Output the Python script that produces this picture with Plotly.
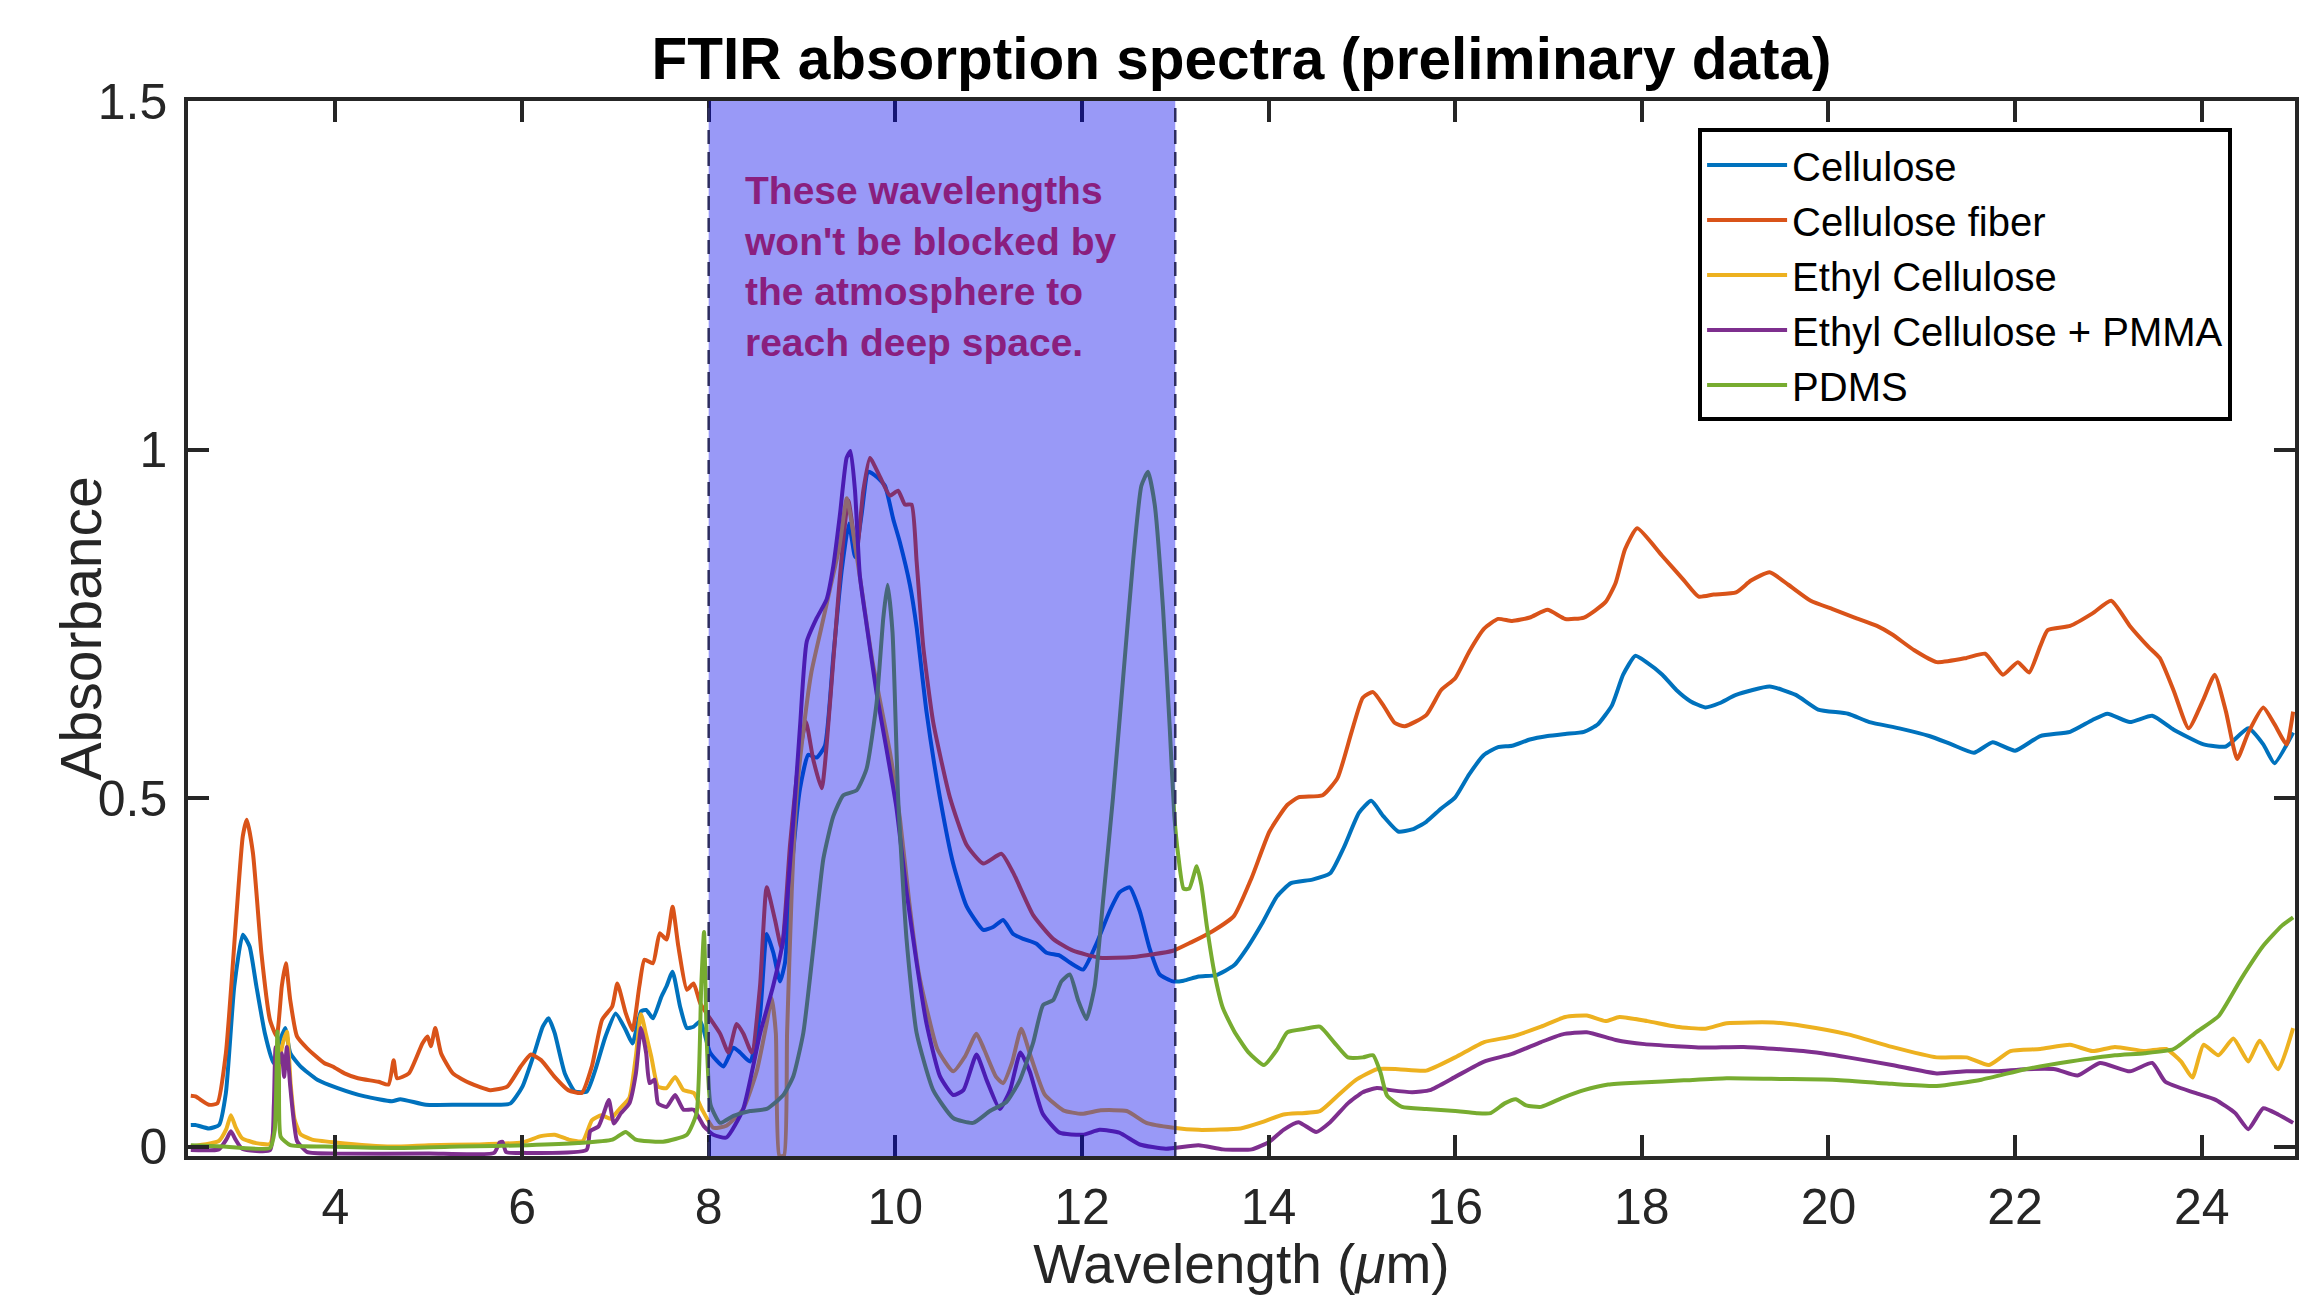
import plotly.graph_objects as go

# ---------------- data ----------------
fiber_x = [2.45, 2.50, 2.644, 2.735, 2.826, 2.935, 3.007, 3.05, 3.116, 3.207, 3.298, 3.37, 3.425, 3.468, 3.516,
           3.588, 3.697, 3.879, 3.97, 4.097, 4.242, 4.46, 4.569, 4.624, 4.66, 4.787, 4.932, 4.987, 5.023, 5.07,
           5.132, 5.259, 5.441, 5.659, 5.84, 5.986, 6.095, 6.204, 6.349, 6.494, 6.64, 6.748, 6.858, 6.966, 7.021,
           7.112, 7.184, 7.257, 7.312, 7.403, 7.475, 7.548, 7.613, 7.675, 7.766, 7.838, 7.911, 8.122, 8.211, 8.30,
           8.372, 8.461, 8.55, 8.622, 8.711, 8.782, 8.872, 8.979, 9.043, 9.121, 9.211, 9.30, 9.407, 9.496, 9.585,
           9.657, 9.728, 9.835, 9.942, 10.03, 10.103, 10.174, 10.228, 10.299, 10.406, 10.585, 10.763, 10.942,
           11.138, 11.263, 11.477, 11.691, 11.905, 12.19, 12.547, 12.976, 13.17, 13.40, 13.63, 13.82, 14.01, 14.20,
           14.32, 14.58, 14.74, 14.89, 15.01, 15.12, 15.23, 15.35, 15.46, 15.69, 15.85, 16.0, 16.15, 16.31, 16.46,
           16.61, 16.80, 16.99, 17.18, 17.38, 17.61, 17.72, 17.82, 17.95, 18.215, 18.454, 18.61, 18.77, 19.01,
           19.17, 19.37, 19.57, 19.81, 20.045, 20.28, 20.52, 20.68, 20.92, 21.16, 21.48, 21.68, 21.87, 22.03, 22.15,
           22.27, 22.35, 22.59, 22.83, 23.03, 23.23, 23.43, 23.55, 23.70, 23.86, 24.02, 24.14, 24.26, 24.38, 24.50,
           24.66, 24.78, 24.91, 24.98]
fiber_y = [0.073, 0.072, 0.060, 0.062, 0.134, 0.325, 0.445, 0.469, 0.421, 0.277, 0.182, 0.158, 0.230, 0.263, 0.210,
           0.158, 0.141, 0.120, 0.115, 0.105, 0.098, 0.093, 0.089, 0.124, 0.098, 0.105, 0.148, 0.158, 0.144, 0.170,
           0.134, 0.105, 0.091, 0.081, 0.086, 0.115, 0.132, 0.124, 0.100, 0.081, 0.077, 0.115, 0.182, 0.201, 0.234,
           0.191, 0.167, 0.230, 0.268, 0.263, 0.306, 0.297, 0.344, 0.287, 0.225, 0.234, 0.205, 0.162, 0.135, 0.176,
           0.162, 0.135, 0.230, 0.372, 0.325, 0.284, 0.433, 0.569, 0.609, 0.555, 0.514, 0.636, 0.819, 0.927, 0.853,
           0.941, 0.988, 0.961, 0.934, 0.941, 0.921, 0.921, 0.840, 0.718, 0.609, 0.501, 0.433, 0.406,
           0.420, 0.393, 0.332, 0.298, 0.281, 0.271, 0.272, 0.281, 0.293, 0.309, 0.331, 0.386, 0.452, 0.490,
           0.501, 0.504, 0.529, 0.595, 0.644, 0.652, 0.633, 0.608, 0.603, 0.619, 0.655, 0.672, 0.710, 0.743, 0.757,
           0.754, 0.759, 0.770, 0.757, 0.759, 0.781, 0.809, 0.857, 0.887, 0.848, 0.812, 0.789, 0.792, 0.795,
           0.812, 0.824, 0.806, 0.783, 0.771, 0.759, 0.747, 0.735, 0.712, 0.695, 0.701, 0.707, 0.677, 0.695, 0.680,
           0.718, 0.741, 0.747, 0.765, 0.783, 0.747, 0.717, 0.701, 0.654, 0.600, 0.642, 0.677, 0.624, 0.556, 0.594,
           0.630, 0.606, 0.577, 0.624]

cell_x = [2.45, 2.50, 2.644, 2.753, 2.826, 2.916, 3.007, 3.08, 3.153, 3.243, 3.334, 3.407, 3.461, 3.516, 3.625,
          3.806, 4.024, 4.315, 4.605, 4.696, 4.969, 5.332, 5.695, 5.877, 6.004, 6.131, 6.222, 6.284, 6.349, 6.458,
          6.567, 6.694, 6.785, 6.894, 7.003, 7.112, 7.184, 7.275, 7.33, 7.403, 7.493, 7.548, 7.613, 7.693, 7.766,
          7.838, 7.911, 8.015, 8.158, 8.265, 8.336, 8.443, 8.55, 8.622, 8.693, 8.765, 8.818, 8.89, 8.979, 9.068,
          9.157, 9.246, 9.336, 9.425, 9.503, 9.568, 9.639, 9.71, 9.799, 9.889, 9.978, 10.049, 10.156, 10.228,
          10.335, 10.478, 10.62, 10.763, 10.942, 11.049, 11.156, 11.263, 11.37, 11.513, 11.62, 11.762, 11.87,
          12.012, 12.155, 12.298, 12.405, 12.512, 12.619, 12.726, 12.833, 12.976, 13.09, 13.25, 13.44, 13.63,
          13.78, 13.93, 14.09, 14.24, 14.47, 14.66, 14.81, 14.97, 15.10, 15.23, 15.39, 15.54, 15.69, 15.85, 16.0,
          16.15, 16.31, 16.46, 16.61, 16.80, 16.99, 17.18, 17.38, 17.53, 17.68, 17.80, 17.93, 18.06, 18.22, 18.37,
          18.52, 18.68, 18.83, 19.01, 19.37, 19.65, 19.89, 20.21, 20.44, 20.76, 21.08, 21.32, 21.56, 21.76, 22.0,
          22.27, 22.59, 22.83, 22.99, 23.23, 23.47, 23.70, 24.02, 24.26, 24.50, 24.66, 24.78, 24.98]
cell_y = [0.031, 0.031, 0.026, 0.031, 0.077, 0.230, 0.304, 0.287, 0.230, 0.163, 0.120, 0.153, 0.170, 0.134, 0.115,
          0.096, 0.084, 0.072, 0.065, 0.068, 0.060, 0.060, 0.060, 0.062, 0.086, 0.134, 0.172, 0.184, 0.163, 0.105,
          0.079, 0.079, 0.110, 0.158, 0.191, 0.167, 0.148, 0.194, 0.196, 0.184, 0.215, 0.230, 0.251, 0.201, 0.170,
          0.172, 0.180, 0.135, 0.115, 0.142, 0.135, 0.122, 0.189, 0.305, 0.278, 0.237, 0.264, 0.399, 0.514, 0.562,
          0.558, 0.575, 0.704, 0.826, 0.894, 0.846, 0.907, 0.968, 0.961, 0.948, 0.900, 0.867, 0.806, 0.745,
          0.623, 0.501, 0.406, 0.345, 0.311, 0.315, 0.325, 0.305, 0.298, 0.291, 0.278, 0.274, 0.264,
          0.254, 0.291, 0.338, 0.365, 0.372, 0.338, 0.284, 0.247, 0.237, 0.238, 0.244, 0.246, 0.260,
          0.287, 0.320, 0.359, 0.378, 0.383, 0.392, 0.430, 0.479, 0.496, 0.474, 0.452, 0.455, 0.466, 0.485, 0.501,
          0.534, 0.562, 0.573, 0.575, 0.584, 0.589, 0.592, 0.595, 0.606, 0.633, 0.677, 0.704, 0.694, 0.677, 0.655,
          0.639, 0.630, 0.636, 0.648, 0.660, 0.648, 0.627, 0.621, 0.609, 0.600, 0.589, 0.577, 0.565, 0.580, 0.568,
          0.589, 0.595, 0.612, 0.621, 0.609, 0.618, 0.598, 0.577, 0.574, 0.600, 0.577, 0.550, 0.594]

ethyl_x = [2.45, 2.75, 2.83, 2.88, 2.93, 3.0, 3.15, 3.30, 3.36, 3.40, 3.44, 3.48, 3.52, 3.56, 3.625, 3.75, 4.0,
           4.6, 5.0, 5.5, 6.0, 6.2, 6.35, 6.5, 6.65, 6.75, 6.85, 6.95, 7.05, 7.15, 7.22, 7.275, 7.33, 7.385, 7.457,
           7.548, 7.64, 7.73, 7.84, 7.93, 8.05, 8.19, 8.37, 8.515, 8.62, 8.675, 8.72, 8.757, 8.807, 8.84, 8.89,
           8.94, 9.0, 9.1, 9.2, 9.3, 9.4, 9.48, 9.55, 9.65, 9.75, 9.85, 9.95, 10.05, 10.15, 10.25, 10.35, 10.45,
           10.62, 10.75, 10.87, 10.95, 11.08, 11.155, 11.25, 11.35, 11.45, 11.6, 11.8, 12.0, 12.2, 12.48, 12.69,
           12.98, 13.25, 13.70, 13.93, 14.16, 14.55, 14.74, 14.93, 15.16, 15.39, 15.69, 16.0, 16.31, 16.61, 16.92,
           17.18, 17.41, 17.61, 17.76, 18.06, 18.37, 18.68, 18.91, 19.41, 19.73, 20.21, 20.68, 21.16, 21.48, 21.72,
           21.95, 22.27, 22.59, 22.83, 23.07, 23.39, 23.62, 23.78, 23.90, 24.02, 24.18, 24.34, 24.50, 24.62, 24.82,
           24.98]
ethyl_y = [0.0, 0.008, 0.025, 0.045, 0.028, 0.012, 0.005, 0.004, 0.05, 0.12, 0.15, 0.165, 0.09, 0.04, 0.018, 0.01,
           0.006, 0.0, 0.002, 0.003, 0.006, 0.015, 0.017, 0.01, 0.008, 0.038, 0.045, 0.04, 0.055, 0.07, 0.13, 0.19,
           0.16, 0.129, 0.086, 0.084, 0.100, 0.081, 0.077, 0.053, 0.027, 0.030, 0.054, 0.108, 0.176, 0.213, 0.162,
           -0.013, -0.013, 0.162, 0.366, 0.50, 0.58, 0.68, 0.74, 0.80, 0.86, 0.93, 0.88, 0.79, 0.70, 0.63, 0.56,
           0.47, 0.35, 0.25, 0.19, 0.14, 0.108, 0.13, 0.162, 0.14, 0.10, 0.091, 0.12, 0.169, 0.13, 0.075, 0.052,
           0.047, 0.052, 0.051, 0.034, 0.027, 0.024, 0.026, 0.035, 0.046, 0.051, 0.073, 0.095, 0.111, 0.111, 0.109,
           0.128, 0.150, 0.158, 0.172, 0.186, 0.188, 0.180, 0.186, 0.180, 0.172, 0.169, 0.177, 0.178, 0.173, 0.161,
           0.143, 0.128, 0.128, 0.117, 0.137, 0.140, 0.146, 0.137, 0.143, 0.137, 0.140, 0.122, 0.099, 0.146, 0.131,
           0.155, 0.122, 0.152, 0.111, 0.170]

pmma_x = [2.45, 2.75, 2.83, 2.88, 2.93, 3.0, 3.30, 3.34, 3.36, 3.40, 3.425, 3.45, 3.48, 3.516, 3.56, 3.588, 3.7,
          4.0, 5.0, 5.7, 5.76, 5.79, 5.83, 6.0, 6.69, 6.73, 6.82, 6.876, 6.93, 6.985, 7.06, 7.15, 7.22, 7.275, 7.33,
          7.366, 7.42, 7.457, 7.55, 7.64, 7.73, 7.84, 7.95, 8.05, 8.19, 8.37, 8.55, 8.69, 8.80, 8.907, 8.979, 9.05,
          9.157, 9.264, 9.336, 9.407, 9.478, 9.52, 9.568, 9.62, 9.69, 9.80, 9.907, 10.01, 10.12, 10.228, 10.335,
          10.478, 10.62, 10.73, 10.87, 10.98, 11.12, 11.23, 11.34, 11.44, 11.58, 11.76, 12.01, 12.19, 12.40, 12.62,
          12.90, 13.25, 13.51, 13.82, 14.01, 14.16, 14.32, 14.51, 14.66, 14.85, 15.01, 15.16, 15.31, 15.54, 15.73,
          16.0, 16.31, 16.61, 16.92, 17.15, 17.41, 17.72, 18.03, 18.37, 18.68, 19.09, 19.73, 20.21, 20.68, 21.16,
          21.48, 21.80, 22.11, 22.43, 22.67, 22.91, 23.23, 23.47, 23.61, 23.93, 24.15, 24.36, 24.50, 24.66, 24.82,
          24.98]
pmma_y = [-0.005, -0.004, 0.01, 0.022, 0.01, -0.003, -0.005, 0.06, 0.143, 0.12, 0.134, 0.10, 0.143, 0.086, 0.03,
          0.008, -0.008, -0.010, -0.010, -0.009, 0.006, 0.007, -0.008, -0.009, -0.005, 0.022, 0.029, 0.048, 0.067,
          0.033, 0.048, 0.062, 0.105, 0.170, 0.134, 0.091, 0.096, 0.062, 0.057, 0.074, 0.053, 0.053, 0.029, 0.017,
          0.013, 0.054, 0.162, 0.230, 0.298, 0.467, 0.603, 0.724, 0.758, 0.785, 0.833, 0.907, 0.988, 0.998, 0.941,
          0.819, 0.751, 0.650, 0.569, 0.488, 0.366, 0.264, 0.176, 0.101, 0.074, 0.081, 0.132, 0.095, 0.054, 0.081,
          0.135, 0.108, 0.047, 0.020, 0.017, 0.024, 0.020, 0.003, -0.003, 0.002, -0.004, -0.004, 0.007, 0.024,
          0.035, 0.021, 0.035, 0.062, 0.078, 0.084, 0.081, 0.078, 0.081, 0.100, 0.122, 0.133, 0.150, 0.161, 0.164,
          0.153, 0.147, 0.144, 0.142, 0.143, 0.137, 0.128, 0.117, 0.105, 0.108, 0.108, 0.111, 0.111, 0.102, 0.120,
          0.108, 0.120, 0.093, 0.077, 0.067, 0.048, 0.025, 0.055, 0.046, 0.034]

pdms_x = [2.45, 2.8, 3.298, 3.35, 3.378, 3.395, 3.414, 3.516, 3.88, 4.605, 5.33, 6.06, 6.60, 6.97, 7.11, 7.22, 7.51,
          7.766, 7.87, 7.92, 7.95, 7.98, 8.02, 8.122, 8.265, 8.443, 8.622, 8.8, 8.907, 9.014, 9.121, 9.229, 9.336,
          9.443, 9.585, 9.692, 9.799, 9.871, 9.917, 9.97, 10.03, 10.12, 10.228, 10.406, 10.62, 10.834, 11.013,
          11.191, 11.334, 11.477, 11.584, 11.691, 11.78, 11.87, 11.959, 12.048, 12.137, 12.226, 12.333, 12.44,
          12.548, 12.637, 12.708, 12.78, 12.869, 12.94, 12.99, 13.03, 13.09, 13.15, 13.23, 13.28, 13.34, 13.42,
          13.51, 13.63, 13.78, 13.95, 14.09, 14.20, 14.39, 14.55, 14.70, 14.85, 15.01, 15.12, 15.20, 15.27, 15.43,
          15.69, 16.0, 16.23, 16.38, 16.53, 16.65, 16.76, 16.92, 17.15, 17.38, 17.64, 17.99, 18.45, 18.91, 19.5,
          20.04, 20.68, 21.16, 21.64, 22.11, 22.59, 23.07, 23.39, 23.70, 23.94, 24.18, 24.42, 24.66, 24.86, 24.98]
pdms_y = [0.002, 0.0, -0.002, 0.024, 0.165, 0.10, 0.014, 0.002, 0.0, -0.002, 0.0, 0.002, 0.005, 0.01, 0.021, 0.01,
          0.007, 0.017, 0.048, 0.23, 0.308, 0.15, 0.06, 0.034, 0.044, 0.051, 0.054, 0.074, 0.101, 0.163, 0.284,
          0.413, 0.474, 0.504, 0.511, 0.542, 0.636, 0.758, 0.806, 0.738, 0.501, 0.298, 0.163, 0.081, 0.041, 0.034,
          0.051, 0.064, 0.095, 0.149, 0.203, 0.210, 0.237, 0.247, 0.210, 0.183, 0.230, 0.352, 0.501, 0.670, 0.840,
          0.948, 0.968, 0.921, 0.772, 0.603, 0.475, 0.42, 0.370, 0.370, 0.402, 0.375, 0.315, 0.249, 0.199, 0.166,
          0.136, 0.117, 0.139, 0.164, 0.169, 0.172, 0.150, 0.128, 0.128, 0.131, 0.106, 0.073, 0.057, 0.054, 0.051,
          0.048, 0.048, 0.062, 0.068, 0.059, 0.057, 0.070, 0.081, 0.089, 0.092, 0.095, 0.098, 0.097, 0.096, 0.090,
          0.087, 0.096, 0.111, 0.122, 0.131, 0.134, 0.140, 0.164, 0.187, 0.240, 0.288, 0.317, 0.329]

series_names = ["Cellulose", "Cellulose fiber", "Ethyl Cellulose", "Ethyl Cellulose + PMMA", "PDMS"]
series_x = [cell_x, fiber_x, ethyl_x, pmma_x, pdms_x]
series_y = [cell_y, fiber_y, ethyl_y, pmma_y, pdms_y]
series_colors = ["#0072BD", "#D95319", "#EDB120", "#7E2F8E", "#77AC30"]

x_ticks = [4, 6, 8, 10, 12, 14, 16, 18, 20, 22, 24]
y_ticks = [0, 0.5, 1, 1.5]
y_tick_text = ["0", "0.5", "1", "1.5"]
x_range = [2.42, 25]
y_range = [-0.0135, 1.5]

window_start = 8      # atmospheric window (µm)
window_end = 13
note_x = 8.36
note_y = 1.405
note_lines = ["These wavelengths", "won't be blocked by", "the atmosphere to", "reach deep space."]

FONT = "Liberation Sans, Arial, Helvetica, sans-serif"
AX = "#262626"

fig = go.Figure()
for name, xs, ys, col in zip(series_names, series_x, series_y, series_colors):
    fig.add_trace(go.Scatter(x=xs, y=ys, mode="lines", name=name,
                             line=dict(color=col, width=4, shape="spline", smoothing=0.5)))

# translucent band above the curves, with dashed edges
fig.add_shape(type="rect", xref="x", yref="paper", x0=window_start, x1=window_end, y0=0, y1=1,
              fillcolor="rgba(0,0,235,0.4)", line=dict(width=0), layer="above")
for xv in (window_start, window_end):
    fig.add_shape(type="line", xref="x", yref="paper", x0=xv, x1=xv, y0=0, y1=1,
                  line=dict(color="rgb(45,45,95)", width=2.5, dash="14px,8px"), layer="above")

fig.add_annotation(x=note_x, y=note_y, xref="x", yref="y", xanchor="left", yanchor="top", align="left",
                   showarrow=False, text="<b>" + "<br>".join(note_lines) + "</b>",
                   font=dict(family=FONT, size=39, color="#8A1F7E"))

# y-axis title placed as rotated text to sit where the reference has it
fig.add_annotation(x=-0.0508, y=0.5, xref="paper", yref="paper", xanchor="center", yanchor="middle",
                   showarrow=False, textangle=-90, text="Absorbance",
                   font=dict(family=FONT, size=57, color=AX))

axis_common = dict(showline=True, linewidth=3.5, linecolor=AX, mirror="ticks", ticks="inside",
                   ticklen=21, tickwidth=3.5, tickcolor=AX, showgrid=False, zeroline=False,
                   tickfont=dict(family=FONT, size=50, color=AX))

fig.update_layout(
    width=2315, height=1295,
    margin=dict(l=188, r=20, t=101, b=139),
    paper_bgcolor="white", plot_bgcolor="white",
    font=dict(family=FONT, color=AX),
    title=dict(text="<b>FTIR absorption spectra (preliminary data)</b>", x=0.5, xref="paper",
               xanchor="center", y=1 - 59 / 1295, yanchor="middle",
               font=dict(family=FONT, size=58.5, color="#000000")),
    xaxis=dict(range=x_range, tickvals=x_ticks, ticklabelstandoff=4, **axis_common,
               title=dict(text="Wavelength (<i>μ</i>m)", font=dict(family=FONT, size=55, color=AX), standoff=7)),
    yaxis=dict(range=y_range, tickvals=y_ticks, ticktext=y_tick_text, ticklabelstandoff=7, **axis_common),
    legend=dict(x=0.7167, xanchor="left", y=0.974, yanchor="top",
                bgcolor="white", bordercolor="#000000", borderwidth=4,
                font=dict(family=FONT, size=40, color="#000000"),
                itemwidth=80, tracegroupgap=0),
    showlegend=True,
)

fig.write_html("out.html", config={"displayModeBar": False},
               post_script="document.body.style.margin='0';document.body.style.overflow='hidden';")
